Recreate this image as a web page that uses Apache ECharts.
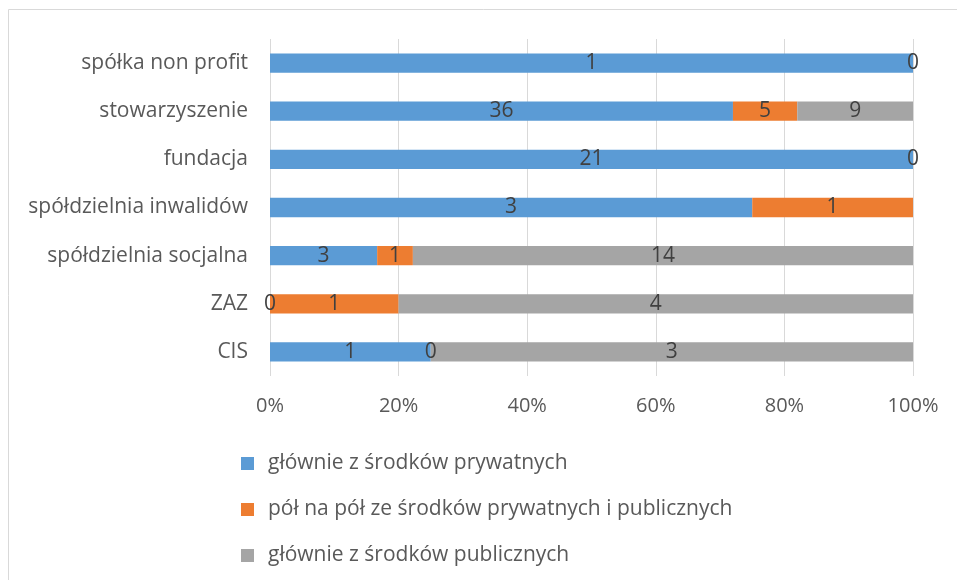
<!DOCTYPE html>
<html>
<head>
<meta charset="utf-8">
<script src="https://cdn.jsdelivr.net/npm/echarts@6/dist/echarts.min.js"></script>
<style>
    html, body { margin: 0; padding: 0; background: #fff; }
    #chart { width: 957px; height: 580px; }
</style>
</head>
<body>
<div id="chart"></div>
<script>
    // kategorie (od góry)
    var categories = ['spółka non profit', 'stowarzyszenie', 'fundacja', 'spółdzielnia inwalidów', 'spółdzielnia socjalna', 'ZAZ', 'CIS'];
    var seriesNames = ['głównie z środków prywatnych', 'pół na pół ze środków prywatnych i publicznych', 'głównie z środków publicznych'];
    // liczby odpowiedzi, null = brak
    var prywatne = [1, 36, 21, 3, 3, 0, 1];
    var polNaPol = [0, 5, 0, 1, 1, 1, 0];
    var publiczne = [null, 9, null, null, 14, 4, 3];
    var colors = ['#5b9bd5', '#ed7d31', '#a5a5a5'];
    var xTicks = ['0%', '20%', '40%', '60%', '80%', '100%'];

    var raw = [prywatne, polNaPol, publiczne];
    var totals = categories.map(function (c, i) {
        return raw.reduce(function (s, arr) { return s + (arr[i] || 0); }, 0);
    });

    var series = raw.map(function (arr, k) {
        return {
            name: seriesNames[k],
            type: 'bar',
            stack: 'total',
            barWidth: '40%',
            itemStyle: { color: colors[k] },
            label: {
                show: true,
                position: 'inside',
                color: '#404040',
                fontSize: 21,
                fontFamily: 'Open Sans',
                formatter: function (p) { return arr[p.dataIndex]; }
            },
            data: arr.map(function (v, i) {
                return v === null ? '-' : v / totals[i] * 100;
            })
        };
    });

    var myChart = echarts.init(document.getElementById('chart'));
    myChart.setOption({
        animation: false,
        textStyle: { fontFamily: 'Open Sans' },
        graphic: [{
            type: 'rect',
            shape: { x: 8.5, y: 9.5, width: 1000, height: 1000 },
            style: { fill: 'none', stroke: '#d9d9d9', lineWidth: 1 }
        }],
        grid: { left: 270, right: 44, top: 39, bottom: 204 },
        legend: {
            orient: 'vertical',
            left: 236,
            top: 448,
            itemWidth: 13,
            itemHeight: 13,
            itemGap: 25,
            icon: 'rect',
            textStyle: { color: '#595959', fontSize: 21, fontFamily: 'Open Sans', padding: [0, 0, 0, 9] },
            data: seriesNames
        },
        xAxis: {
            type: 'value',
            min: 0,
            max: 100,
            interval: 20,
            axisLine: { show: false },
            axisTick: { show: false },
            splitLine: { lineStyle: { color: '#d9d9d9', width: 1 } },
            axisLabel: {
                color: '#595959',
                fontSize: 20,
                margin: 20,
                formatter: function (v) { return xTicks[v / 20]; }
            }
        },
        yAxis: {
            type: 'category',
            inverse: true,
            data: categories,
            axisLine: { show: false },
            axisTick: { show: false },
            axisLabel: { color: '#595959', fontSize: 21, margin: 22 }
        },
        series: series
    });
</script>
</body>
</html>
